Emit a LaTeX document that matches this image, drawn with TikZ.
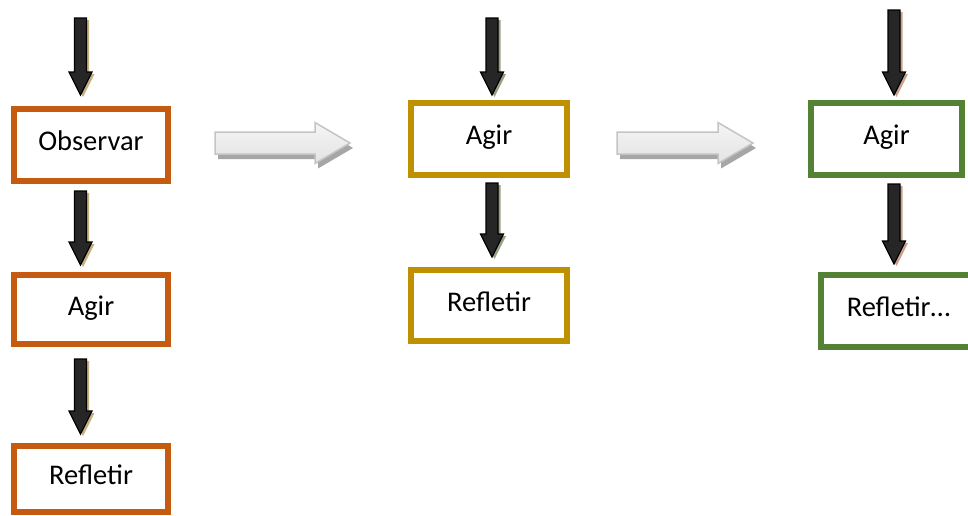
\documentclass[tikz,border=0pt]{standalone}
\usepackage{fontspec}
\setmainfont{Carlito}
\usetikzlibrary{calc}
\definecolor{orangeC}{RGB}{197,90,17}
\definecolor{goldC}{RGB}{191,144,0}
\definecolor{greenC}{RGB}{84,130,53}
\definecolor{arrowfill}{RGB}{38,38,38}
\definecolor{shadowL}{RGB}{196,176,126}
\definecolor{shadowM}{RGB}{150,160,130}
\definecolor{shadowR}{RGB}{200,160,140}
\definecolor{grayline}{RGB}{196,196,196}
\definecolor{grayshadow}{RGB}{166,166,166}
\tikzset{
  stepbox/.style={draw=#1, line width=6pt, fill=white, inner sep=0pt,
    text height=18.5pt, text depth=7.5pt,
    font=\fontsize{28.5}{34}\selectfont},
}
% vertical block arrow: #1 start, #2 end, #3 shadow colour
\newcommand\blockarrow[3]{%
  \fill[#3] let \p1=(#1), \p2=(#2) in
    (\x1-6pt+2.5pt,\y1-2pt) -- (\x1+6pt+2.5pt,\y1-2pt) -- (\x1+6pt+2.5pt,\y2+23pt-2pt)
    -- (\x1+11.5pt+2.5pt,\y2+23pt-2pt) -- (\x1+2.5pt,\y2-2pt) -- (\x1-11.5pt+2.5pt,\y2+23pt-2pt)
    -- (\x1-6pt+2.5pt,\y2+23pt-2pt) -- cycle;
  \filldraw[fill=arrowfill, draw=black, line width=1.2pt] let \p1=(#1), \p2=(#2) in
    (\x1-6pt,\y1) -- (\x1+6pt,\y1) -- (\x1+6pt,\y2+23pt)
    -- (\x1+11.5pt,\y2+23pt) -- (\x1,\y2) -- (\x1-11.5pt,\y2+23pt)
    -- (\x1-6pt,\y2+23pt) -- cycle;
}
% horizontal gray block arrow: #1 tail, #2 tip
\newcommand\grayarrow[2]{%
  \fill[grayshadow] let \p1=(#1), \p2=(#2) in
    (\x1+3pt,\y1+11pt-5pt) -- (\x2-35pt+3pt,\y1+11pt-5pt) -- (\x2-35pt+3pt,\y1+20.5pt-5pt)
    -- (\x2+3pt,\y1-5pt) -- (\x2-35pt+3pt,\y1-20.5pt-5pt) -- (\x2-35pt+3pt,\y1-11pt-5pt)
    -- (\x1+3pt,\y1-11pt-5pt) -- cycle;
  \draw[grayline, line width=1.5pt, top color=gray!8, bottom color=gray!22] let \p1=(#1), \p2=(#2) in
    (\x1,\y1+11pt) -- (\x2-35pt,\y1+11pt) -- (\x2-35pt,\y1+20.5pt)
    -- (\x2,\y1) -- (\x2-35pt,\y1-20.5pt) -- (\x2-35pt,\y1-11pt)
    -- (\x1,\y1-11pt) -- cycle;
}
\begin{document}
\begin{tikzpicture}[x=1pt,y=-1pt]
\useasboundingbox (0,0) rectangle (968,515);
% left column
\node[stepbox=orangeC, minimum width=154pt, minimum height=72pt] (obs) at (91,145) {Observar};
\node[stepbox=orangeC, minimum width=154pt, minimum height=69pt] (agirL) at (91,309.5) {Agir};
\node[stepbox=orangeC, minimum width=154pt, minimum height=66pt] (refL) at (91,479) {Refletir};
\coordinate (topL) at (80.5,18);
\blockarrow{topL}{$(obs.north)+(-10.5,-11)$}{shadowL}
\blockarrow{$(obs.south)+(-10.5,7)$}{$(agirL.north)+(-10.5,-7)$}{shadowL}
\blockarrow{$(agirL.south)+(-10.5,12)$}{$(refL.north)+(-10.5,-9)$}{shadowL}
% middle column
\node[stepbox=goldC, minimum width=156pt, minimum height=72pt] (agirM) at (489,139) {Agir};
\node[stepbox=goldC, minimum width=156pt, minimum height=71pt] (refM) at (489,305.5) {Refletir};
\coordinate (topM) at (492,18);
\blockarrow{topM}{$(agirM.north)+(3,-5)$}{shadowM}
\blockarrow{$(agirM.south)+(3,5)$}{$(refM.north)+(3,-10)$}{shadowM}
% right column
\node[stepbox=greenC, minimum width=151pt, minimum height=72pt] (agirR) at (886.5,139) {Agir};
\node[stepbox=greenC, minimum width=155pt, minimum height=72pt] (refR) at (898.5,311) {Refletir…};
\coordinate (topR) at (894,10);
\blockarrow{topR}{$(agirR.north)+(7.5,-5)$}{shadowR}
\blockarrow{$(agirR.south)+(7.5,6)$}{$(refR.north)+(-4.5,-8)$}{shadowR}
% gray transition arrows
\coordinate (g1a) at (215,143);
\coordinate (g1b) at (350,143);
\coordinate (g2a) at (617,143);
\coordinate (g2b) at (753,143);
\grayarrow{g1a}{g1b}
\grayarrow{g2a}{g2b}
\end{tikzpicture}
\end{document}
